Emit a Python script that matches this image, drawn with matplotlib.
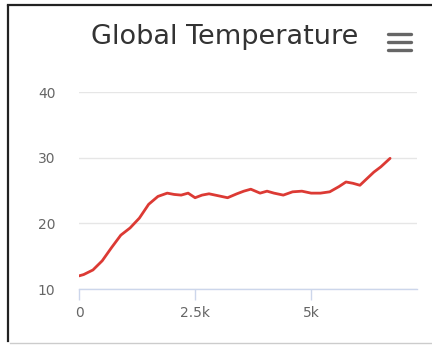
import matplotlib

matplotlib.use("Agg")
import matplotlib.pyplot as plt
from matplotlib.lines import Line2D

# data
x_vals = [0, 100, 300, 500, 700, 900, 1100, 1300, 1500, 1700, 1900, 2050, 2200,
          2350, 2500, 2650, 2800, 3000, 3200, 3400, 3550, 3700, 3900, 4050,
          4200, 4400, 4600, 4800, 5000, 5200, 5400, 5600, 5750, 5900, 6050,
          6200, 6350, 6500, 6700]
temps = [12.0, 12.2, 12.9, 14.3, 16.3, 18.2, 19.3, 20.8, 22.9, 24.1, 24.6, 24.4,
         24.3, 24.6, 23.9, 24.3, 24.5, 24.2, 23.9, 24.5, 24.9, 25.2, 24.6, 24.9,
         24.6, 24.3, 24.8, 24.9, 24.6, 24.6, 24.8, 25.6, 26.3, 26.1, 25.8, 26.8,
         27.8, 28.6, 29.9]
x_ticks = [0, 2500, 5000]
x_tick_labels = ["0", "2.5k", "5k"]
y_ticks = [10, 20, 30, 40]

fig = plt.figure(figsize=(4.32, 3.45), dpi=100)
ax = fig.add_axes([0.1829, 0.1623, 0.7824, 0.571])

ax.plot(x_vals, temps, color="#dc3a34", linewidth=2.0, solid_capstyle="round")
ax.set_xlim(0, 7280)
ax.set_ylim(10, 40)

ax.set_yticks(y_ticks)
ax.set_xticks(x_ticks)
ax.set_xticklabels(x_tick_labels)
ax.grid(axis="y", color="#e6e6e6", linewidth=1)
ax.set_axisbelow(True)
for side in ("top", "right", "left"):
    ax.spines[side].set_visible(False)
ax.spines["bottom"].set_color("#ccd6eb")
ax.spines["bottom"].set_linewidth(1)
ax.tick_params(axis="x", colors="#666666", length=8, width=1, pad=4,
               labelsize=10, color="#ccd6eb")
ax.tick_params(axis="y", colors="#666666", length=0, pad=17, labelsize=10)

fig.text(0.521, 0.893, "Global Temperature", ha="center", va="center",
         fontsize=19.5, color="#333333")

# menu icon
for yy in (34, 42, 50):
    fig.add_artist(Line2D([388 / 432, 411 / 432], [1 - yy / 345, 1 - yy / 345],
                          color="#666666", linewidth=2.4, solid_capstyle="round"))

# container border
fig.add_artist(Line2D([8 / 432, 8 / 432], [1 - 6 / 345, 1 - 341 / 345],
                      color="#222222", linewidth=1.6))
fig.add_artist(Line2D([8 / 432, 1.0], [1 - 5 / 345, 1 - 5 / 345],
                      color="#222222", linewidth=1.6))
fig.add_artist(Line2D([10 / 432, 1.0], [1 - 343 / 345, 1 - 343 / 345],
                      color="#cccccc", linewidth=1))

fig.savefig("out.png", dpi=100)
